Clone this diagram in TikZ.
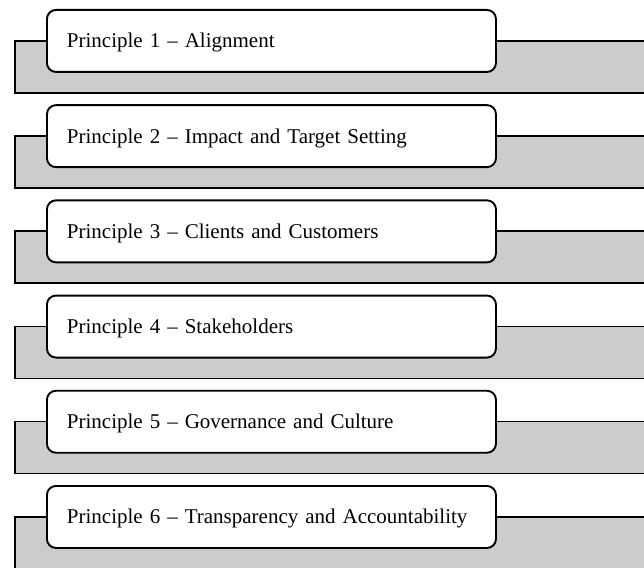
\documentclass[tikz,border=0pt]{standalone}
\usepackage{fontspec}
\setmainfont{Liberation Serif}
\definecolor{bandgray}{HTML}{CCCCCC}
\begin{document}
\begin{tikzpicture}[x=1pt,y=-1pt,
  band/.style={draw=black, fill=bandgray, line width=1.6pt},
  pbox/.style={draw=black, fill=white, line width=1.9pt, rounded corners=9pt,
    anchor=north west, minimum height=62pt, text width=409pt, align=left,
    inner xsep=20pt, inner ysep=0pt, text height=14pt, text depth=0pt,
    font=\fontsize{21}{25}\selectfont}]
  \useasboundingbox (0,0) rectangle (644,567);
  \clip (0,0) rectangle (644,567);
  \foreach \i/\label in {0/{Principle 1 – Alignment},
                         1/{Principle 2 – Impact and Target Setting},
                         2/{Principle 3 – Clients and Customers},
                         3/{Principle 4 – Stakeholders},
                         4/{Principle 5 – Governance and Culture},
                         5/{Principle 6 – Transparency and Accountability}} {
    \pgfmathsetmacro{\top}{9+95.2*\i}
    % grey band behind each principle
    \node[band, anchor=north west, minimum width=640pt, minimum height=52pt,
          inner sep=0pt] (b\i) at (14,\top+31) {};
    % white rounded label box
    \node[pbox] (p\i) at (46,\top) {\label};
  }
\end{tikzpicture}
\end{document}
